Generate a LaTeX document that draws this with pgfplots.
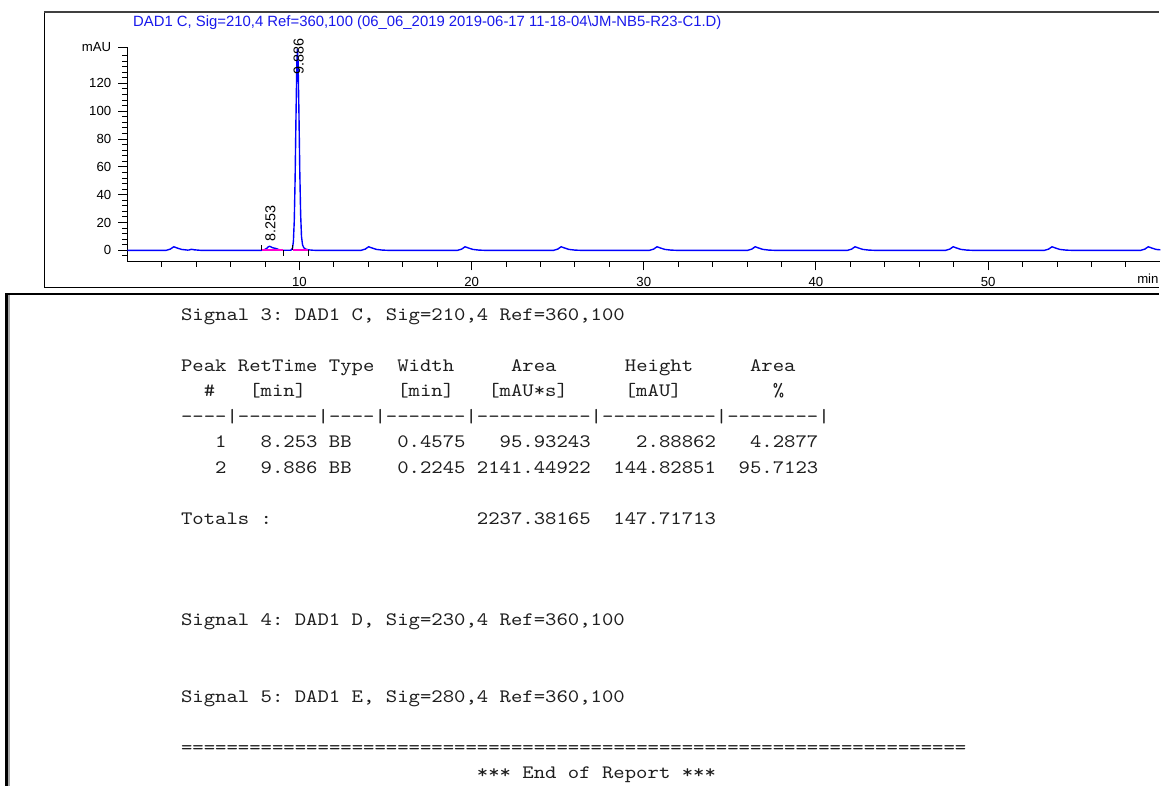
\documentclass[border=0pt]{standalone}
\usepackage{fontspec}
\setmainfont{Liberation Sans}
\newfontfamily\mono{lmmono10-regular.otf}[Ligatures=TeXOff,FakeStretch=1.143]
\usepackage{pgfplots}
\pgfplotsset{compat=1.18}
\definecolor{sigblue}{RGB}{0,0,255}
\definecolor{intmag}{RGB}{255,0,210}
\definecolor{titleblue}{RGB}{25,25,235}
\definecolor{rep}{RGB}{30,30,30}
\newcommand{\rl}[2]{\node[anchor=base west,inner sep=0pt,font=\mono\fontsize{9.5}{10}\selectfont\frenchspacing,text=rep] at (181,{321+25.5*#1}) {#2};}
\begin{document}
\begin{tikzpicture}
\begin{scope}[x=0.5pt,y=-0.5pt]
\useasboundingbox (0,0) rectangle (1161,787);
\fill[white] (0,0) rectangle (1161,787);
% top panel frame
\draw[line width=0.5pt] (44.5,288) -- (44.5,12.5);
\draw[line width=1pt, black!75] (44.5,12.5) -- (1161,12.5);
\draw[line width=0.5pt] (44.5,288) -- (1161,288);
% bottom panel frame
\draw[line width=1.2pt] (6.5,787) -- (6.5,294.5) -- (1161,294.5);
\draw[black!35, line width=0.9pt] (9.3,787) -- (9.3,296);
% title
\node[anchor=base west, inner sep=0pt, text=titleblue, font=\fontsize{7.45}{8}\selectfont] at (133,26.5) {DAD1 C, Sig=210,4 Ref=360,100 (06\_06\_2019 2019-06-17 11-18-04\textbackslash JM-NB5-R23-C1.D)};
% unit of x axis
\node[anchor=base west, inner sep=0pt, font=\fontsize{6.6}{7}\selectfont] at (1139,284) {min};
% report
\rl{0}{Signal~3:~DAD1~C,~Sig=210,4~Ref=360,100}
\rl{2}{Peak~RetTime~Type~~Width~~~~~Area~~~~~~Height~~~~~Area}
\rl{3}{~~\#~~~[min]~~~~~~~~[min]~~~[mAU*s]~~~~~[mAU]~~~~~~~~\%}
\rl{4}{----|-------|----|-------|----------|----------|--------|}
\rl{5}{~~~1~~~8.253~BB~~~~0.4575~~~95.93243~~~~2.88862~~~4.2877}
\rl{6}{~~~2~~~9.886~BB~~~~0.2245~2141.44922~~144.82851~~95.7123}
\rl{8}{Totals~:~~~~~~~~~~~~~~~~~~2237.38165~~147.71713}
\rl{12}{Signal~4:~DAD1~D,~Sig=230,4~Ref=360,100}
\rl{15}{Signal~5:~DAD1~E,~Sig=280,4~Ref=360,100}
\rl{17}{=====================================================================}
\rl{18}{~~~~~~~~~~~~~~~~~~~~~~~~~~***~End~of~Report~***}
\end{scope}
\begin{axis}[
  at={(63.75pt,-131pt)}, anchor=south west,
  scale only axis, width=517.5pt, height=107.35pt,
  xmin=0, xmax=60, ymin=-8, ymax=146,
  axis lines*=left,
  axis line style={line width=0.5pt,-},
  xtick={10,20,30,40,50},
  minor xtick={2,4,6,8,12,14,16,18,22,24,26,28,32,34,36,38,42,44,46,48,52,54,56,58},
  ytick={0,20,40,60,80,100,120},
  minor ytick={-4,4,8,12,16,24,28,32,36,44,48,52,56,64,68,72,76,84,88,92,96,104,108,112,116,124,128,132,136,140},
  extra y ticks={146}, extra y tick labels={mAU},
  tick align=outside,
  major tick length=4.5pt, minor tick length=2.5pt,
  tick style={black, line width=0.5pt},
  ticklabel style={font=\fontsize{6.6}{7}\selectfont},
  /pgf/number format/assume math mode=true,
  clip=false,
]
\addplot[sigblue, line width=0.7pt] coordinates {
(0,0)(2.25,0)(2.5,0.9)(2.7,2.6)(2.9,1.7)(3.15,0.7)(3.5,0.2)
(3.6,0.3)(3.72,0.8)(3.9,0.4)(4.3,0)
(7.7,0)(7.8,0.05)(7.95,0.4)(8.1,1.5)(8.2,2.6)(8.253,2.89)(8.32,2.7)(8.42,2.0)(8.55,1.6)(8.65,1.3)(8.75,0.8)(8.88,0.3)(9.0,0.1)(9.5,0.1)
(9.6,1.6)(9.65,6.6)(9.7,21.2)(9.75,52)(9.8,96)(9.85,134.8)(9.886,144.83)(9.92,136)(9.97,100)(10.02,57)(10.07,26)(10.12,10)(10.18,4)(10.25,2)(10.35,1)(10.5,0.4)(10.8,0.1)(11,0)
(13.57,0)(13.82,0.9)(14.02,2.6)(14.22,1.7)(14.47,0.7)(14.82,0.2)(15.22,0)
(19.17,0)(19.42,0.9)(19.62,2.6)(19.82,1.7)(20.07,0.7)(20.42,0.2)(20.82,0)
(24.75,0)(25.0,0.9)(25.2,2.6)(25.4,1.7)(25.65,0.7)(26.0,0.2)(26.4,0)
(30.32,0)(30.57,0.9)(30.77,2.6)(30.97,1.7)(31.22,0.7)(31.57,0.2)(31.97,0)
(36.02,0)(36.27,0.9)(36.47,2.6)(36.67,1.7)(36.92,0.7)(37.27,0.2)(37.67,0)
(41.82,0)(42.07,0.9)(42.27,2.6)(42.47,1.7)(42.72,0.7)(43.07,0.2)(43.47,0)
(47.52,0)(47.77,0.9)(47.97,2.6)(48.17,1.7)(48.42,0.7)(48.77,0.2)(49.17,0)
(53.26,0)(53.51,0.9)(53.71,2.6)(53.91,1.7)(54.16,0.7)(54.51,0.2)(54.91,0)
(58.85,0)(59.1,0.9)(59.3,2.6)(59.5,1.7)(59.75,0.7)(60,0.4)
};
% integration baselines
\addplot[intmag, line width=0.7pt] coordinates {(7.8,0.2)(9.05,0.2)};
\addplot[intmag, line width=0.7pt] coordinates {(9.6,0.4)(10.52,0.4)};
% peak start/end marks
\addplot[black, line width=0.5pt] coordinates {(7.8,0)(7.8,4)};
\addplot[black, line width=0.5pt] coordinates {(9.05,0)(9.05,-3.8)};
\addplot[black, line width=0.5pt] coordinates {(9.6,0)(9.6,4)};
\addplot[black, line width=0.5pt] coordinates {(10.52,0)(10.52,-3.8)};
% peak labels
\node[rotate=90, anchor=east, inner sep=0pt, font=\fontsize{7.2}{8}\selectfont] at (axis cs:9.95,152.5) {9.886};
\node[rotate=90, anchor=west, inner sep=0pt, font=\fontsize{7.2}{8}\selectfont] at (axis cs:8.32,6) {8.253};
\end{axis}
\end{tikzpicture}
\end{document}
